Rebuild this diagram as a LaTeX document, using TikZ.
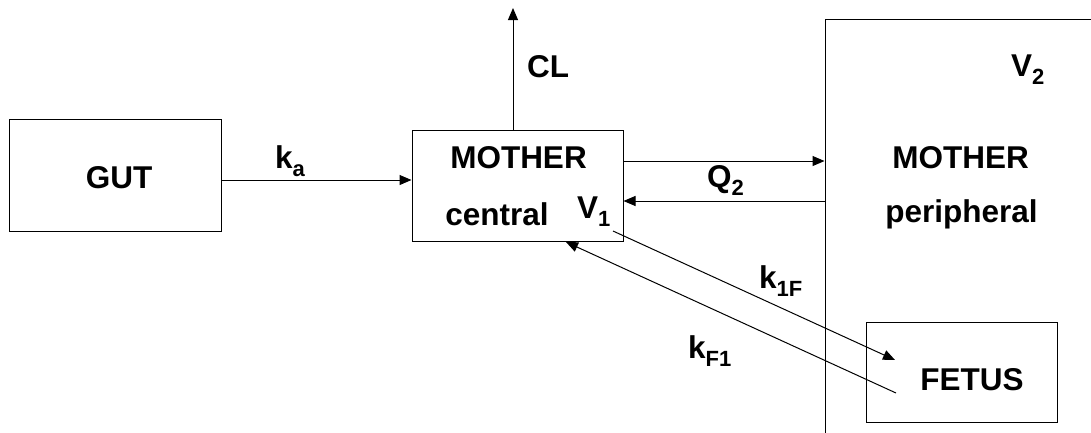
\documentclass[tikz,border=0pt]{standalone}
\usepackage{fontspec}
\setmainfont{Liberation Sans}
\usetikzlibrary{arrows.meta}
\newcommand{\mysub}[1]{\raisebox{-0.28em}{\fontsize{22}{25}\selectfont #1}}
\tikzset{
  box/.style={draw, line width=1pt, inner sep=0pt, minimum width=#1},
  lbl/.style={inner sep=0pt, font=\fontsize{31.5}{36}\selectfont\bfseries},
  arr/.style={line width=1pt, -{Triangle[length=12pt,width=10pt]}}
}
\begin{document}
\begin{tikzpicture}[x=1pt,y=-1pt]
\clip (0,0) rectangle (1091,432);
\fill[white] (0,0) rectangle (1091,432);
% boxes
\node[box=212pt, minimum height=112pt] (gut) at (115,175) {};
\node[box=211pt, minimum height=111pt] (mc) at (517.5,185.5) {};
\node[box=300pt, minimum height=440pt] (mp) at (975,239) {};
\node[box=191pt, minimum height=100pt] (fet) at (961.5,372) {};
% texts
\node[lbl, anchor=base] (tgut) at (119,188) {GUT};
\node[lbl, anchor=base] (tmc1) at (518.5,168) {MOTHER};
\node[lbl, anchor=base] (tmc2) at (497,225) {central};
\node[lbl, anchor=base west] (tv1) at (577,218) {V\mysub{1}};
\node[lbl, anchor=base] (tmp1) at (960.5,168) {MOTHER};
\node[lbl, anchor=base] (tmp2) at (961.5,222) {peripheral};
\node[lbl, anchor=base west] (tv2) at (1011,76) {V\mysub{2}};
\node[lbl, anchor=base] (tfet) at (972,390) {FETUS};
\node[lbl, anchor=base west] (tka) at (275,168) {k\mysub{a}};
\node[lbl, anchor=base west] (tcl) at (527,77) {CL};
\node[lbl, anchor=base west] (tq2) at (707,187) {Q\mysub{2}};
\node[lbl, anchor=base west] (tk1f) at (759,288) {k\mysub{1F}};
\node[lbl, anchor=base west] (tkf1) at (688,358) {k\mysub{F1}};
% coordinates
\coordinate (clend) at (513,8);
\coordinate (k1fs) at (613,231);
\coordinate (k1fe) at (895,360);
\coordinate (kf1s) at (896,393);
\coordinate (kf1e) at (566,242);
% connectors
\draw[arr] ([yshift=-5pt]gut.east) -- ([yshift=-5pt]gut.east -| mc.west);
\draw[arr] (mc.north -| clend) -- (clend);
\draw[arr] ([yshift=24.5pt]mc.east) -- ([yshift=24.5pt]mc.east -| mp.west);
\draw[arr] ([yshift=-15.5pt]mc.east -| mp.west) -- ([yshift=-15.5pt]mc.east);
\draw[arr] (k1fs) -- (k1fe);
\draw[arr] (kf1s) -- (kf1e);
\end{tikzpicture}
\end{document}
